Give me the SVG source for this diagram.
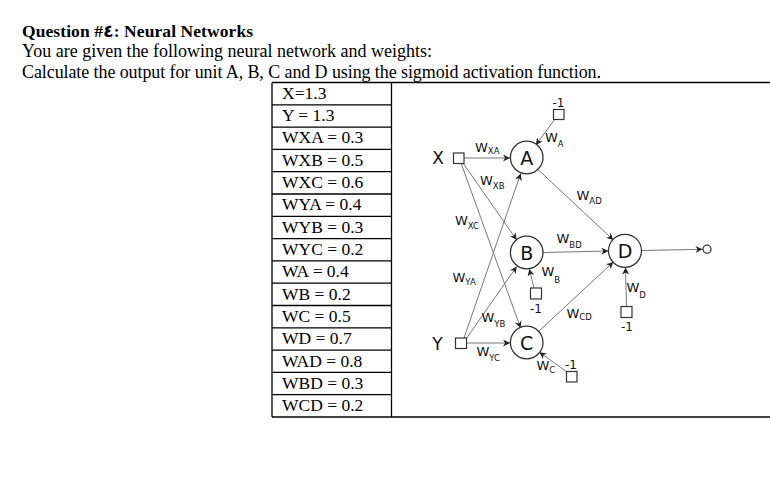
<svg xmlns="http://www.w3.org/2000/svg" width="770" height="502" viewBox="0 0 770 502">
<style>
.hd{font-family:"Liberation Serif","DejaVu Serif",serif;font-size:18px;fill:#000}
.tt{font-family:"Liberation Serif","DejaVu Sans",serif;font-size:17.5px;font-weight:bold;fill:#000}
.cell{font-family:"Liberation Serif",serif;font-size:17.5px;fill:#000}
.tb{fill:none;stroke:#000;stroke-width:1.3}
.nd{fill:#fff;stroke:#333;stroke-width:1.3}
.sq{fill:#fff;stroke:#333;stroke-width:1.2}
.nl{font-family:"DejaVu Sans",sans-serif;font-size:19px;fill:#111;text-anchor:middle}
.io{font-family:"DejaVu Sans",sans-serif;font-size:17px;fill:#111;text-anchor:middle}
.w{font-family:"DejaVu Sans",sans-serif;font-size:13px;fill:#111}
.s{font-size:8.5px}
.m1{font-family:"DejaVu Sans",sans-serif;font-size:12px;fill:#111;text-anchor:middle}
.ln{stroke:#777;stroke-width:1;fill:none;marker-end:url(#ah)}
</style>
<defs>
<marker id="ah" viewBox="0 0 10 10" refX="10" refY="5" markerWidth="7" markerHeight="7" orient="auto" markerUnits="userSpaceOnUse">
<path d="M0,0 L10,5 L0,10 L3,5 z" fill="#222"/>
</marker>
</defs>
<rect width="770" height="502" fill="#fff"/>
<g id="heading">
<text class="tt" x="22" y="37" textLength="231">Question #٤: Neural Networks</text>
<text class="hd" x="22" y="57" textLength="410">You are given the following neural network and weights:</text>
<text class="hd" x="22" y="78" textLength="579">Calculate the output for unit A, B, C and D using the sigmoid activation function.</text>
</g>
<g id="table">
<path class="tb" d="M272,82.5H770M272,417H770M272,82.5V417M391.5,82.5V417"/>
<path class="tb" d="M272,104.8H391.5M272,127.1H391.5M272,149.4H391.5M272,171.7H391.5M272,194H391.5M272,216.3H391.5M272,238.6H391.5M272,260.9H391.5M272,283.2H391.5M272,305.5H391.5M272,327.8H391.5M272,350.1H391.5M272,372.4H391.5M272,394.7H391.5"/>
<text class="cell" x="282" y="99">X=1.3</text>
<text class="cell" x="282" y="121">Y = 1.3</text>
<text class="cell" x="282" y="143">WXA = 0.3</text>
<text class="cell" x="282" y="166">WXB = 0.5</text>
<text class="cell" x="282" y="188">WXC = 0.6</text>
<text class="cell" x="282" y="210">WYA = 0.4</text>
<text class="cell" x="282" y="233">WYB = 0.3</text>
<text class="cell" x="282" y="255">WYC = 0.2</text>
<text class="cell" x="282" y="277">WA = 0.4</text>
<text class="cell" x="282" y="300">WB = 0.2</text>
<text class="cell" x="282" y="322">WC = 0.5</text>
<text class="cell" x="282" y="344">WD = 0.7</text>
<text class="cell" x="282" y="367">WAD = 0.8</text>
<text class="cell" x="282" y="389">WBD = 0.3</text>
<text class="cell" x="282" y="411">WCD = 0.2</text>
</g>
<g id="connectors">
<line class="ln" x1="464" y1="158" x2="510" y2="158"/>
<line class="ln" x1="463" y1="163" x2="516.7" y2="240"/>
<line class="ln" x1="461" y1="163" x2="520.6" y2="328"/>
<line class="ln" x1="464" y1="338" x2="520.7" y2="173.5"/>
<line class="ln" x1="466" y1="339" x2="516.7" y2="266.5"/>
<line class="ln" x1="467" y1="343" x2="510" y2="343"/>
<line class="ln" x1="555" y1="119" x2="535.8" y2="145"/>
<line class="ln" x1="534" y1="288" x2="529.3" y2="269"/>
<line class="ln" x1="567" y1="372" x2="539.4" y2="352.2"/>
<line class="ln" x1="538" y1="169.5" x2="613.3" y2="240"/>
<line class="ln" x1="543" y1="252.5" x2="608.3" y2="251"/>
<line class="ln" x1="538" y1="332" x2="613.3" y2="262"/>
<line class="ln" x1="626.5" y1="306.5" x2="625.5" y2="267.5"/>
<line class="ln" x1="641.7" y1="250.5" x2="702.5" y2="249.3"/>
</g>
<g id="node-X">
<text class="io" x="438" y="164">X</text>
<rect class="sq" x="453.5" y="153" width="10.5" height="10.5"/>
</g>
<g id="node-Y">
<text class="io" x="437.5" y="349.5">Y</text>
<rect class="sq" x="455.5" y="338" width="11" height="10.5"/>
</g>
<g id="node-A">
<circle class="nd" cx="526.7" cy="157.5" r="16.3"/>
<text class="nl" x="526.7" y="164.5">A</text>
</g>
<g id="node-B">
<circle class="nd" cx="526.7" cy="252.5" r="16.3"/>
<text class="nl" x="526.7" y="259.5">B</text>
</g>
<g id="node-C">
<circle class="nd" cx="526.7" cy="342.5" r="16.3"/>
<text class="nl" x="526.7" y="349.5">C</text>
</g>
<g id="node-D">
<circle class="nd" cx="625" cy="250.8" r="16.5"/>
<text class="nl" x="625" y="257.8">D</text>
</g>
<g id="output">
<circle class="nd" cx="707" cy="249.2" r="4"/>
</g>
<g id="bias-A">
<text class="m1" x="558.5" y="106.5">-1</text>
<rect class="sq" x="553.5" y="109.5" width="10.5" height="10"/>
</g>
<g id="bias-B">
<rect class="sq" x="530.5" y="288" width="11" height="11"/>
<text class="m1" x="536" y="312.5">-1</text>
</g>
<g id="bias-C">
<text class="m1" x="571" y="368.5">-1</text>
<rect class="sq" x="566.5" y="371.5" width="10.5" height="10.5"/>
</g>
<g id="bias-D">
<rect class="sq" x="621" y="306.5" width="11" height="11"/>
<text class="m1" x="627" y="330.5">-1</text>
</g>
<g id="weight-labels">
<text class="w" x="475" y="151.5">W<tspan class="s" dy="2">XA</tspan></text>
<text class="w" x="480" y="185">W<tspan class="s" dy="4">XB</tspan></text>
<text class="w" x="545" y="141.5">W<tspan class="s" dy="5">A</tspan></text>
<text class="w" x="576.5" y="200">W<tspan class="s" dy="4">AD</tspan></text>
<text class="w" x="455" y="225">W<tspan class="s" dy="4">XC</tspan></text>
<text class="w" x="452.5" y="281.5">W<tspan class="s" dy="3.5">YA</tspan></text>
<text class="w" x="556.5" y="243.3">W<tspan class="s" dy="5">BD</tspan></text>
<text class="w" x="541.5" y="276">W<tspan class="s" dy="7">B</tspan></text>
<text class="w" x="481.5" y="321.7">W<tspan class="s" dy="5">YB</tspan></text>
<text class="w" x="566.5" y="318.3">W<tspan class="s" dy="2">CD</tspan></text>
<text class="w" x="476.5" y="356">W<tspan class="s" dy="4.5">YC</tspan></text>
<text class="w" x="536.5" y="370">W<tspan class="s" dy="3">C</tspan></text>
<text class="w" x="626.5" y="291.7">W<tspan class="s" dy="6.5">D</tspan></text>
</g>
</svg>
